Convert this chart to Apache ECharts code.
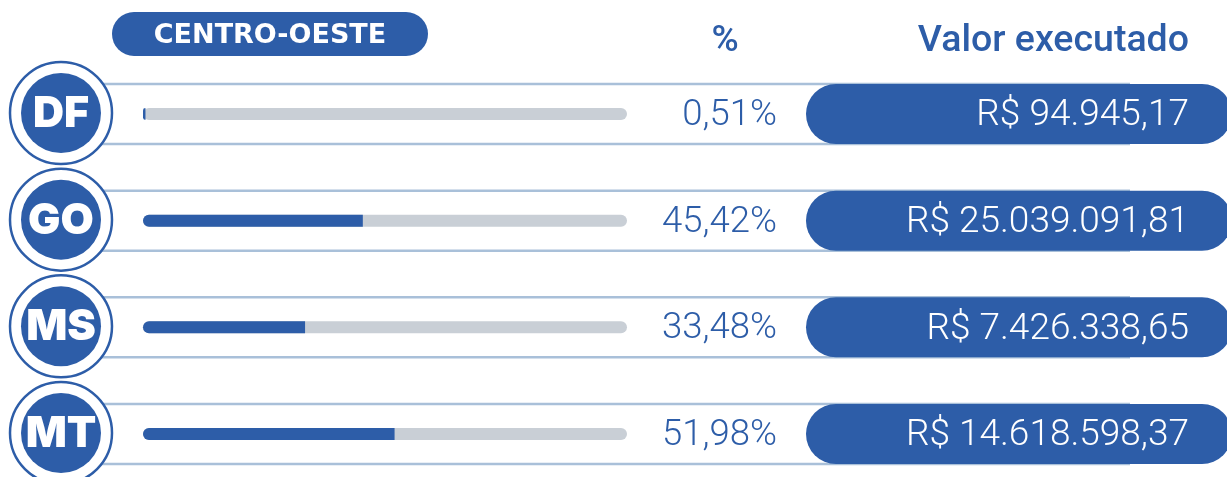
<!DOCTYPE html>
<html>
<head>
<meta charset="utf-8">
<script src="https://cdn.jsdelivr.net/npm/echarts@6/dist/echarts.min.js"></script>
<style>
  html, body { margin: 0; padding: 0; background: #fff; }
  #chart-container { width: 1227px; height: 477px; }
</style>
</head>
<body>
<div id="chart-container"></div>
<script>
// dados da região Centro-Oeste
var regiao = 'CENTRO-OESTE';
var estados = ['DF', 'GO', 'MS', 'MT'];
var percentuais = [0.51, 45.42, 33.48, 51.98];
var valores = [94945.17, 25039091.81, 7426338.65, 14618598.37];

var AZUL = '#2D5DA8';
var CINZA = '#C9CFD6';
var LINHA = '#A9C0D9';

function formatBR(num, casas) {
	var partes = num.toFixed(casas).split('.');
	var inteiro = partes[0].replace(/\B(?=(\d{3})+(?!\d))/g, '.');
	return inteiro + ',' + partes[1];
}

var chartDom = document.getElementById('chart-container');
var myChart = echarts.init(chartDom);
var option;

option = {
	animation: false,
	grid: {
		left: 143,
		width: 484,
		top: 114,
		height: 320
	},
	xAxis: {
		type: 'value',
		min: 0,
		max: 100,
		show: false
	},
	yAxis: {
		type: 'category',
		data: estados,
		inverse: true,
		boundaryGap: false,
		show: false
	},
	graphic: [
		{
			type: 'group',
			left: 112,
			top: 12,
			children: [
				{ type: 'rect', shape: { x: 0, y: 0, width: 316, height: 44, r: 22 }, style: { fill: AZUL } },
				{ type: 'text', x: 158, y: 24, style: { text: regiao, fill: '#fff', font: 'bold 27px "DejaVu Sans"', align: 'center', verticalAlign: 'middle' } }
			]
		},
		{
			type: 'text', x: 725, y: 42,
			style: { text: '%', fill: AZUL, font: '500 37px Roboto', align: 'center', verticalAlign: 'middle' }
		},
		{
			type: 'text', x: 1189, y: 42,
			style: { text: 'Valor executado', fill: AZUL, font: '500 37.5px Roboto', align: 'right', verticalAlign: 'middle' }
		}
	],
	series: [
		{
			// linhas, círculos, percentuais e pílulas de valor
			type: 'custom',
			data: estados.map(function (s, i) { return [0, i]; }),
			encode: { x: 0, y: 1 },
			z: 1,
			renderItem: function (params, api) {
				var i = api.value(1);
				var c = api.coord([0, i]);
				var cy = c[1];
				return {
					type: 'group',
					children: [
						{ type: 'line', shape: { x1: 100, y1: cy - 30, x2: 1130, y2: cy - 30 }, style: { stroke: LINHA, lineWidth: 2.5 } },
						{ type: 'line', shape: { x1: 100, y1: cy + 30, x2: 1130, y2: cy + 30 }, style: { stroke: LINHA, lineWidth: 2.5 } },
						{ type: 'circle', shape: { cx: 61, cy: cy - 1, r: 51 }, style: { fill: '#fff', stroke: AZUL, lineWidth: 2.5 } },
						{ type: 'circle', shape: { cx: 61, cy: cy - 1, r: 40 }, style: { fill: AZUL } },
						{ type: 'text', x: 61, y: cy, style: { text: estados[i], fill: '#fff', font: '900 43px Inter', align: 'center', verticalAlign: 'middle' } },
						{ type: 'text', x: 777, y: cy + 2, style: { text: formatBR(percentuais[i], 2) + '%', fill: AZUL, font: '300 36.5px Roboto', align: 'right', verticalAlign: 'middle' } },
						{ type: 'rect', shape: { x: 806, y: cy - 30, width: 426, height: 60, r: 30 }, style: { fill: AZUL } },
						{ type: 'text', x: 1189, y: cy + 2, style: { text: 'R$ ' + formatBR(valores[i], 2), fill: '#fff', font: '300 37px Roboto', align: 'right', verticalAlign: 'middle' } }
					]
				};
			}
		},
		{
			type: 'bar',
			data: percentuais,
			barWidth: 12,
			z: 3,
			showBackground: true,
			backgroundStyle: {
				color: CINZA,
				borderRadius: 6
			},
			itemStyle: {
				color: AZUL,
				borderRadius: [6, 0, 0, 6]
			}
		}
	]
};

myChart.setOption(option);

window.addEventListener('resize', function () {
	myChart.resize();
});
</script>
</body>
</html>
